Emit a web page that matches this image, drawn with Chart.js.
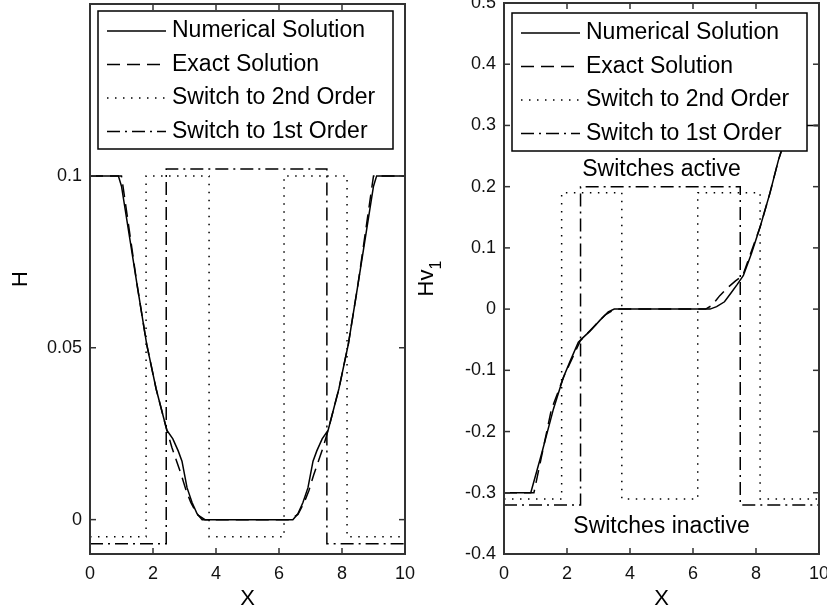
<!DOCTYPE html>
<html>
<head>
<meta charset="utf-8">
<script src="https://cdn.jsdelivr.net/npm/chart.js@4.4.0/dist/chart.umd.min.js"></script>
<style>
body { margin: 0; background: #fff; }
#wrap { position: relative; width: 827px; height: 613px; }
canvas { position: absolute; top: 0; left: 0; }
</style>
</head>
<body>
<div id="wrap">
  <canvas id="leftChart" width="827" height="613"></canvas>
  <canvas id="rightChart" width="827" height="613"></canvas>
</div>
<script>
// ---- data ----
var seriesNames = ["Numerical Solution", "Exact Solution", "Switch to 2nd Order", "Switch to 1st Order"];
var xTicks = [0, 2, 4, 6, 8, 10];

// left panel : H
var xNumL = [0, 0.9, 1.0, 1.5, 1.8, 2.1, 2.44, 2.63, 2.8, 2.92, 3.08, 3.24, 3.4, 3.56, 6.44, 6.6, 6.76, 6.92, 7.08, 7.2, 7.37, 7.56, 7.9, 8.2, 8.5, 9.0, 9.1, 10];
var hNumL = [0.1, 0.1, 0.097, 0.068, 0.051, 0.038, 0.026, 0.0235, 0.020, 0.017, 0.0093, 0.005, 0.0017, 0, 0, 0.0017, 0.005, 0.0093, 0.017, 0.020, 0.0235, 0.026, 0.038, 0.051, 0.068, 0.097, 0.1, 0.1];
var xExL = [0, 1.0, 1.5, 1.8, 2.1, 2.44, 2.6, 2.75, 2.9, 3.05, 3.2, 3.4, 3.65, 6.35, 6.6, 6.8, 6.95, 7.1, 7.25, 7.4, 7.56, 7.9, 8.2, 8.5, 9.0, 10];
var hExL = [0.1, 0.1, 0.068, 0.051, 0.038, 0.026, 0.021, 0.017, 0.013, 0.0085, 0.005, 0.0015, 0, 0, 0.0015, 0.005, 0.0085, 0.013, 0.017, 0.021, 0.026, 0.038, 0.051, 0.068, 0.1, 0.1];
var xSw2L = [0, 1.78, 3.78, 6.16, 8.16, 10];
var hSw2L = [-0.005, 0.1, -0.005, 0.1, -0.005, -0.005];
var xSw1L = [0, 2.42, 7.52, 10];
var hSw1L = [-0.007, 0.102, -0.007, -0.007];
var yTicksL = [0, 0.05, 0.1];

// right panel : Hv1
var xNumR = [0, 0.85, 1.2, 1.57, 1.88, 2.1, 2.36, 2.5, 2.73, 3.05, 3.31, 3.5, 6.54, 6.75, 7.0, 7.2, 7.4, 7.6, 7.85, 8.13, 8.44, 8.71, 8.95, 9.15, 10];
var vNumR = [-0.3, -0.3, -0.235, -0.163, -0.112, -0.085, -0.054, -0.047, -0.036, -0.018, -0.0045, 0, 0, 0.004, 0.012, 0.026, 0.04, 0.055, 0.09, 0.134, 0.189, 0.243, 0.28, 0.3, 0.3];
var xExR = [0, 0.95, 1.5, 1.9, 2.42, 2.6, 2.9, 3.2, 3.45, 3.65, 6.4, 6.6, 6.85, 7.1, 7.35, 7.58, 8.13, 8.44, 8.71, 9.05, 10];
var vExR = [-0.3, -0.3, -0.165, -0.11, -0.052, -0.042, -0.026, -0.01, -0.002, 0, 0, 0.006, 0.022, 0.035, 0.046, 0.055, 0.134, 0.189, 0.243, 0.3, 0.3];
var xSw2R = [0, 1.83, 3.74, 6.15, 8.13, 10];
var vSw2R = [-0.31, 0.19, -0.31, 0.19, -0.31, -0.31];
var xSw1R = [0, 2.43, 7.5, 10];
var vSw1R = [-0.32, 0.2, -0.32, -0.32];
var yTicksR = [-0.4, -0.3, -0.2, -0.1, 0, 0.1, 0.2, 0.3, 0.4, 0.5];

var notesR = [
    { text: "Switches active", x: 5, y: 0.227 },
    { text: "Switches inactive", x: 5, y: -0.356 }
];

function pts(xs, ys) {
    var out = [];
    for (var i = 0; i < xs.length; i++) {
        out.push({ x: xs[i], y: ys[i] });
    }
    return out;
}

function line(ctx, x1, y1, x2, y2) {
    ctx.beginPath();
    ctx.moveTo(x1, y1);
    ctx.lineTo(x2, y2);
    ctx.stroke();
}

// no extra room for the end labels, the plot box is fixed
function noPad(s) {
    s.paddingLeft = 0;
    s.paddingRight = 0;
    s.paddingTop = 0;
    s.paddingBottom = 0;
}

// box, inward ticks, legend, notes and axis labels the MATLAB way
var matlabLook = {
    id: 'matlabLook',
    afterDatasetsDraw: function (chart) {
        var ctx = chart.ctx, a = chart.chartArea, o = chart.options.plugins.matlabLook;
        var xs = chart.scales.x, ys = chart.scales.y;
        ctx.save();
        ctx.fillStyle = '#000';
        ctx.font = '23px "Liberation Sans", Arial, sans-serif';
        ctx.textAlign = 'center';
        ctx.textBaseline = 'middle';
        (o.notes || []).forEach(function (n) {
            ctx.fillText(n.text, xs.getPixelForValue(n.x), ys.getPixelForValue(n.y));
        });

        ctx.setLineDash([]);
        ctx.strokeStyle = '#333';
        ctx.lineWidth = 2;
        ctx.strokeRect(a.left, a.top, a.right - a.left, a.bottom - a.top);
        ctx.lineWidth = 1.5;
        xs.ticks.forEach(function (t) {
            var px = xs.getPixelForValue(t.value);
            line(ctx, px, a.bottom, px, a.bottom - 6);
            line(ctx, px, a.top, px, a.top + 6);
        });
        ys.ticks.forEach(function (t) {
            var py = ys.getPixelForValue(t.value);
            line(ctx, a.left, py, a.left + 6, py);
            line(ctx, a.right, py, a.right - 6, py);
        });

        // legend
        var lx = a.left + o.legendDx, ly = a.top + o.legendDy, lw = 295, lh = 138;
        ctx.fillStyle = '#fff';
        ctx.fillRect(lx, ly, lw, lh);
        ctx.strokeStyle = '#000';
        ctx.lineWidth = 1.5;
        ctx.strokeRect(lx, ly, lw, lh);
        ctx.fillStyle = '#000';
        ctx.textAlign = 'left';
        chart.data.datasets.forEach(function (d, i) {
            var cy = ly + 20 + i * 33.5;
            ctx.setLineDash(d.borderDash || []);
            ctx.lineWidth = d.borderWidth;
            line(ctx, lx + 9, cy, lx + 68, cy);
            ctx.setLineDash([]);
            ctx.fillText(d.label, lx + 74, cy);
        });

        // axis labels
        ctx.font = '22px "Liberation Sans", Arial, sans-serif';
        ctx.textAlign = 'center';
        ctx.fillText('X', (a.left + a.right) / 2, 599);
        ctx.translate(o.yLabelX, (a.top + a.bottom) / 2);
        ctx.rotate(-Math.PI / 2);
        if (o.ySub) {
            ctx.textAlign = 'left';
            var w = ctx.measureText(o.yLabel).width;
            ctx.font = '16px "Liberation Sans", Arial, sans-serif';
            var w2 = ctx.measureText(o.ySub).width;
            var start = -(w + w2) / 2;
            ctx.fillText(o.ySub, start + w, 10);
            ctx.font = '22px "Liberation Sans", Arial, sans-serif';
            ctx.fillText(o.yLabel, start, 0);
        } else {
            ctx.fillText(o.yLabel, 0, 0);
        }
        ctx.restore();
    }
};

function makePanel(id, sets, yMin, yMax, yTicks, opts) {
    var styles = [
        { dash: [], width: 1.5 },
        { dash: [13, 7], width: 1.5 },
        { dash: [1.5, 6.5], width: 1.5 },
        { dash: [13, 5, 2, 5], width: 1.5 }
    ];
    var datasets = [];
    for (var i = 0; i < sets.length; i++) {
        datasets.push({
            label: seriesNames[i],
            data: pts(sets[i][0], sets[i][1]),
            borderColor: '#000',
            borderWidth: styles[i].width,
            borderDash: styles[i].dash,
            pointRadius: 0,
            fill: false,
            tension: 0,
            stepped: i >= 2
        });
    }
    var tickFont = { family: '"Liberation Sans", Arial, sans-serif', size: 18 };
    return new Chart(document.getElementById(id), {
        type: 'line',
        data: { datasets: datasets },
        options: {
            responsive: false,
            animation: false,
            events: [],
            layout: { padding: { left: 0, right: opts.right, top: opts.top, bottom: 0 } },
            plugins: {
                legend: { display: false },
                tooltip: { enabled: false },
                matlabLook: opts
            },
            scales: {
                x: {
                    type: 'linear', min: 0, max: 10,
                    grid: { display: false }, border: { display: false },
                    afterBuildTicks: function (s) { s.ticks = xTicks.map(function (v) { return { value: v }; }); },
                    afterFit: function (s) { s.height = 59; noPad(s); },
                    ticks: { font: tickFont, color: '#111', padding: 1, maxRotation: 0 }
                },
                y: {
                    type: 'linear', min: yMin, max: yMax,
                    grid: { display: false }, border: { display: false },
                    afterBuildTicks: function (s) { s.ticks = yTicks.map(function (v) { return { value: v }; }); },
                    afterFit: function (s) { s.width = opts.left; noPad(s); },
                    ticks: {
                        font: tickFont, color: '#111', padding: 0,
                        callback: function (v) { return String(Math.round(v * 100) / 100); }
                    }
                }
            }
        },
        plugins: [matlabLook]
    });
}

// both canvases cover the whole page, each panel keeps to its own box
makePanel('leftChart',
    [[xNumL, hNumL], [xExL, hExL], [xSw2L, hSw2L], [xSw1L, hSw1L]],
    -0.01, 0.15, yTicksL,
    { left: 90, right: 422, top: 4, legendDx: 8, legendDy: 7, yLabel: 'H', yLabelX: 21 });

makePanel('rightChart',
    [[xNumR, vNumR], [xExR, vExR], [xSw2R, vSw2R], [xSw1R, vSw1R]],
    -0.4, 0.5, yTicksR,
    { left: 504, right: 8, top: 3, legendDx: 8, legendDy: 10, yLabel: 'Hv', ySub: '1', yLabelX: 427, notes: notesR });
</script>
</body>
</html>
